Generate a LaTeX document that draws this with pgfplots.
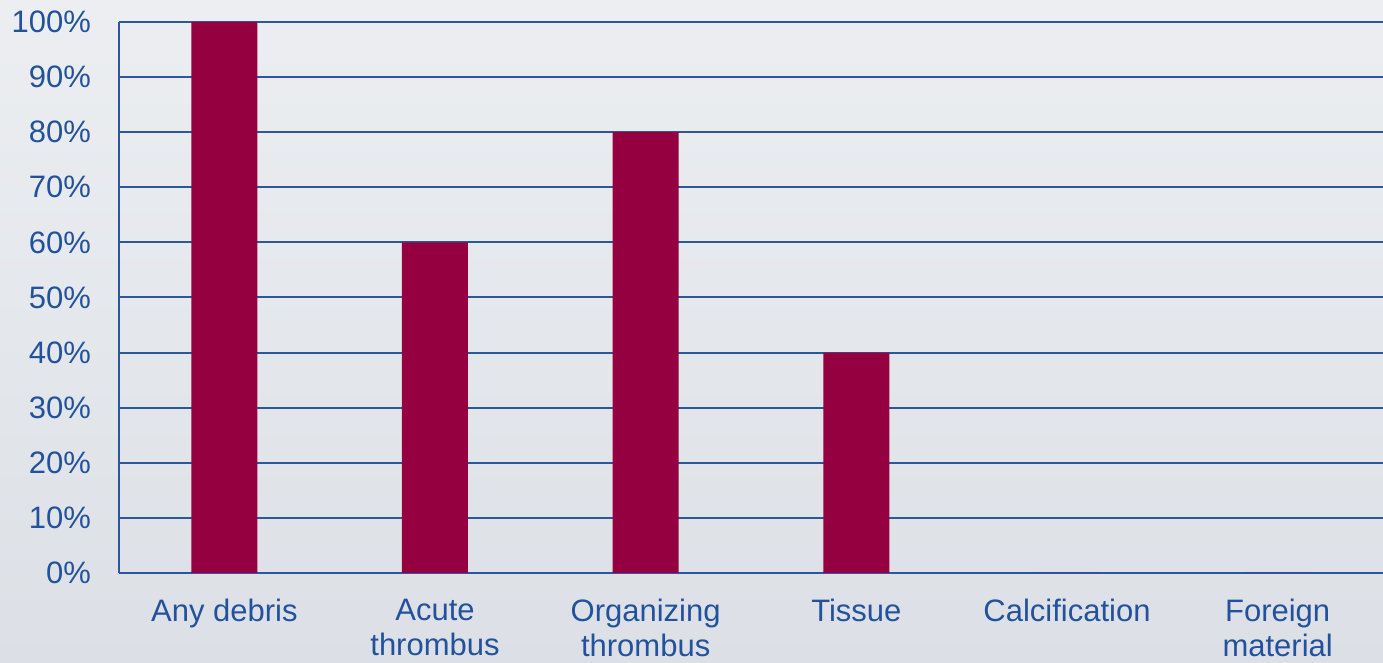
\documentclass[border=0pt]{standalone}
\usepackage{pgfplots}
\pgfplotsset{compat=1.18}
\usepackage{fontspec}
\setmainfont{Liberation Sans}
\definecolor{txtblue}{RGB}{34,82,156}
\definecolor{gridblue}{RGB}{43,88,155}
\definecolor{barred}{RGB}{148,0,64}
\definecolor{bgtop}{RGB}{236,238,241}
\definecolor{bgbot}{RGB}{220,224,230}
\begin{document}
\begin{tikzpicture}
\shade[top color=bgtop, bottom color=bgbot] (-59.5pt,-45pt) rectangle (632pt,286.5pt);
\useasboundingbox (-59.5pt,-45pt) rectangle (632pt,286.5pt);
\begin{axis}[
  scale only axis,
  width=632pt, height=275.5pt,
  xmin=-0.5, xmax=5.5,
  ymin=0, ymax=100,
  axis x line=bottom, axis y line=left,
  axis line style={gridblue, line width=1pt, -},
  ytick={0,10,...,100},
  yticklabel={\pgfmathprintnumber{\tick}\%},
  /pgf/number format/assume math mode=true,
  ymajorgrids,
  grid style={gridblue, line width=1pt},
  major tick length=0pt,
  xtick=data,
  xticklabels={Any debris, Acute\\thrombus, Organizing\\thrombus, Tissue, Calcification, Foreign\\material},
  xticklabel style={align=center, font=\fontsize{15.5}{17.5}\selectfont, text=txtblue, yshift=-9.5pt},
  yticklabel style={font=\fontsize{15.5}{17.5}\selectfont, text=txtblue, xshift=-10.5pt},
  tick label style={text=txtblue},
  clip=false,
]
\addplot[ybar, bar width=33pt, fill=barred, draw=none] coordinates {
  (0,100) (1,60) (2,80) (3,40) (4,0) (5,0)
};
\end{axis}
\end{tikzpicture}
\end{document}
